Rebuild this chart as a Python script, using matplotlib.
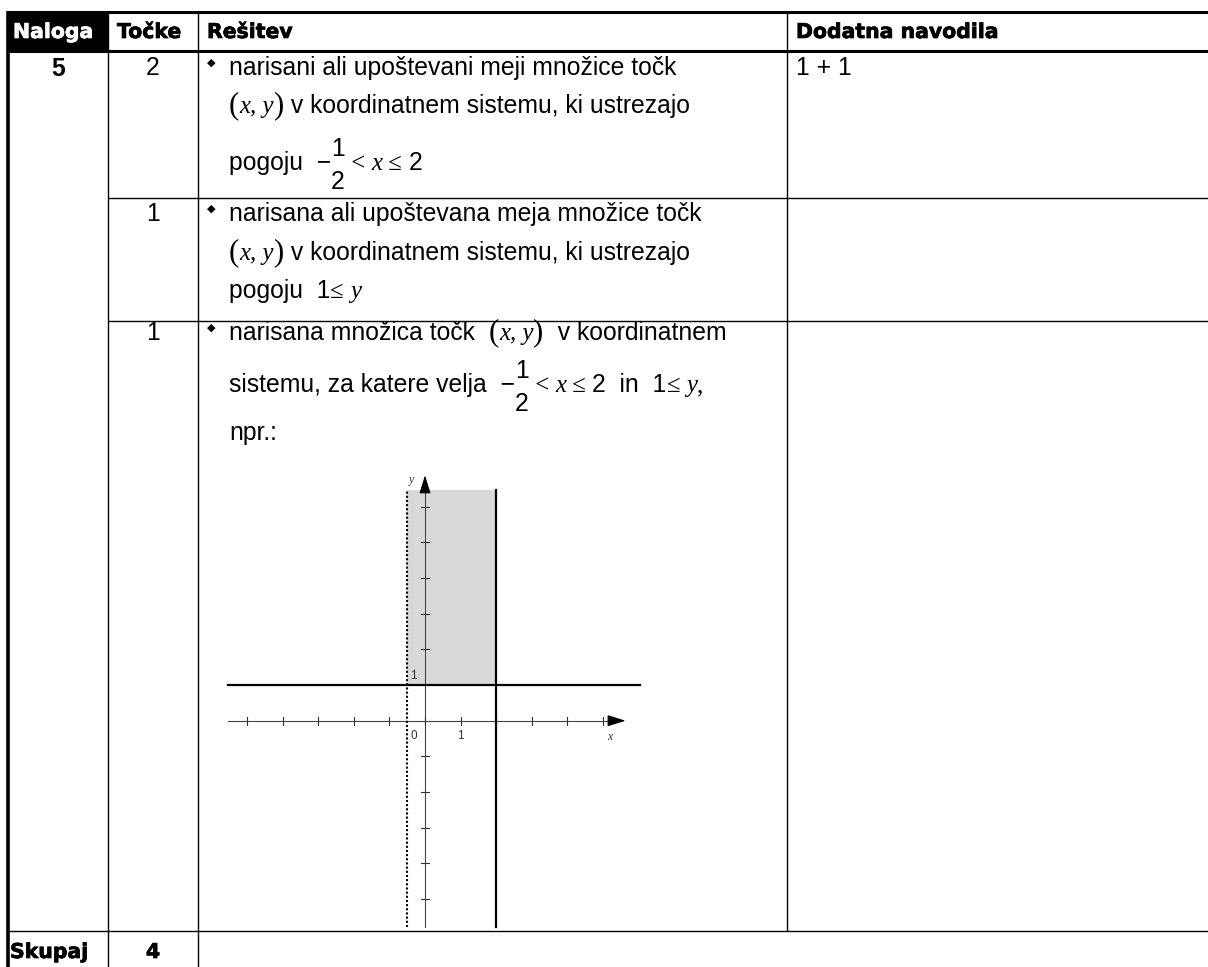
import matplotlib.pyplot as plt
import matplotlib.patheffects as pe
from matplotlib.font_manager import FontProperties

# ---- table content ----
headers = ["Naloga", "Točke", "Rešitev", "Dodatna navodila"]
naloga = "5"
tocke = ["2", "1", "1"]
navodila = ["1 + 1", "", ""]
skupaj_label = "Skupaj"
skupaj = "4"

# solution text, one list of lines per row; each line is a list of (style, text)
resitev = [
    [[("s", "narisani ali upoštevani meji množice točk")],
     [("p", "("), ("i", "x, y"), ("p", ")"), ("s", " v koordinatnem sistemu, ki ustrezajo")],
     [("s", "pogoju  −"), ("frac", ("1", "2")), ("r", " < "), ("i", "x"), ("r", " ≤ "), ("s", "2")]],
    [[("s", "narisana ali upoštevana meja množice točk")],
     [("p", "("), ("i", "x, y"), ("p", ")"), ("s", " v koordinatnem sistemu, ki ustrezajo")],
     [("s", "pogoju  1"), ("r", "≤ "), ("i", "y")]],
    [[("s", "narisana množica točk  "), ("p", "("), ("i", "x, y"), ("p", ")"), ("s", "  v koordinatnem")],
     [("s", "sistemu, za katere velja  −"), ("frac", ("1", "2")), ("r", " < "), ("i", "x"), ("r", " ≤ "),
      ("s", "2  in  1"), ("r", "≤ "), ("i", "y"), ("r", ",")],
     [("s", "npr.:")]],
]

# ---- small graph: -1/2 < x <= 2 and 1 <= y ----
x_left = -0.5
x_right = 2
y_low = 1
x_ticks = [-5, -4, -3, -2, -1, 0, 1, 2, 3, 4, 5]
y_ticks = [-5, -4, -3, -2, -1, 2, 3, 4, 5, 6]

W, H = 1208, 967
fig = plt.figure(figsize=(W / 100, H / 100), dpi=100)
ax = fig.add_axes([0, 0, 1, 1])
ax.set_xlim(0, W)
ax.set_ylim(H, 0)
ax.axis("off")
rend = fig.canvas.get_renderer()

FS = 17.8
styles = {
    "s": dict(family="Liberation Sans", size=FS),
    "i": dict(family="Liberation Serif", style="italic", size=FS),
    "r": dict(family="Liberation Serif", size=FS),
    "p": dict(family="Liberation Serif", size=FS * 1.25),
}
head = dict(family="DejaVu Sans", weight="bold", size=14.7)


def width(s, st):
    fp = FontProperties(**st)
    w1 = rend.get_text_width_height_descent(s + "l", fp, False)[0]
    w2 = rend.get_text_width_height_descent("l", fp, False)[0]
    return w1 - w2


def put_line(x, y, parts):
    for kind, s in parts:
        if kind == "frac":
            num, den = s
            ax.text(x, y - 14, num, va="baseline", **styles["s"])
            ax.text(x, y + 19, den, va="baseline", **styles["s"])
            x += max(width(num, styles["s"]), width(den, styles["s"]))
            continue
        ax.text(x, y, s, va="baseline", **styles[kind])
        x += width(s, styles[kind])


def heavy(x, y, s, color="black", **kw):
    t = ax.text(x, y, s, va="baseline", color=color, **head, **kw)
    t.set_path_effects([pe.withStroke(linewidth=0.5, foreground=color)])


def hline(y, x0, x1, lw=1.0):
    ax.plot([x0, x1], [y, y], color="black", lw=lw, solid_capstyle="butt")


def vline(x, y0, y1, lw=1.0):
    ax.plot([x, x], [y0, y1], color="black", lw=lw, solid_capstyle="butt")


# ---- grid ----
ax.fill_between([8, 108], 12, 51, color="black", lw=0)
hline(12, 7, W, 2.2)
hline(51, 7, W, 2.2)
vline(8, 11, H, 2.6)
vline(108, 12, H)
vline(198, 12, H)
vline(787, 12, 931)
hline(198, 108, W)
hline(321, 108, W)
hline(931, 8, W)

# ---- header ----
head_x = [13, 117, 207, 796]
for i, (hx, txt) in enumerate(zip(head_x, headers)):
    heavy(hx, 38, txt, color="white" if i == 0 else "black")

# ---- rows ----
ax.text(58, 76, naloga, ha="center", va="baseline", family="Liberation Sans",
        weight="bold", size=FS)
baselines = [[75, 113, 170], [221, 260, 298], [340, 392, 440]]
for r in range(3):
    b = baselines[r]
    ax.text(153, b[0], tocke[r], ha="center", va="baseline", **styles["s"])
    ax.text(207, b[0] - 9, "◆", va="baseline", family="DejaVu Sans", size=8)
    for y, parts in zip(b, resitev[r]):
        put_line(229, y, parts)
    if navodila[r]:
        ax.text(796, b[0], navodila[r], va="baseline", **styles["s"])

heavy(10, 958, skupaj_label)
heavy(153, 958, skupaj, ha="center")

# ---- small graph ----
ox, oy, ux, uy = 425, 720.7, 35.55, 35.65
px0, px1, py0, py1 = 220, 645, 465, 930
ax2 = fig.add_axes([px0 / W, (H - py1) / H, (px1 - px0) / W, (py1 - py0) / H])
ax2.set_xlim((px0 - ox) / ux, (px1 - ox) / ux)
ax2.set_ylim((oy - py1) / uy, (oy - py0) / uy)
ax2.axis("off")

x_min, x_max = -5.53, 6.05
y_min, y_top, y_max = -5.79, 6.47, 6.96
ax2.fill_between([x_left, x_right], y_low, y_top, color="#d9d9d9", lw=0)

ax2.plot([x_min, 5.5], [0, 0], color="#444444", lw=0.8)
ax2.plot([0, 0], [y_min, 6.7], color="#444444", lw=0.8)
ax2.annotate("", xy=(5.72, 0), xytext=(5.2, 0),
             arrowprops=dict(arrowstyle="-|>,head_length=0.8,head_width=0.25",
                             color="black", lw=0.8, mutation_scale=14))
ax2.annotate("", xy=(0, y_max), xytext=(0, 6.4),
             arrowprops=dict(arrowstyle="-|>,head_length=0.8,head_width=0.25",
                             color="black", lw=0.8, mutation_scale=14))
for t in x_ticks:
    ax2.plot([t, t], [-0.11, 0.11], color="#333333", lw=0.8)
for t in y_ticks:
    ax2.plot([-0.11, 0.11], [t, t], color="#333333", lw=0.8)

ax2.plot([x_min, x_max], [y_low, y_low], color="black", lw=1.6)
ax2.plot([x_right, x_right], [y_min, y_top], color="black", lw=1.6)
ax2.plot([x_left, x_left], [y_min, y_top], color="black", lw=1.5, ls=(0, (1, 1)))

tick_font = dict(family="Liberation Sans", size=8.5, color="#333333")
ax2.text(-0.42, -0.25, "0", ha="left", va="top", **tick_font)
ax2.text(1, -0.25, "1", ha="center", va="top", **tick_font)
ax2.text(-0.42, 1.08, "1", ha="left", va="bottom", **tick_font)
ax2.text(5.2, -0.3, "x", ha="center", va="top", family="Liberation Serif",
         style="italic", size=8.5, color="#333333")
ax2.text(-0.38, 6.75, "y", ha="center", va="center", family="Liberation Serif",
         style="italic", size=8.5, color="#333333")

fig.savefig("out.png", dpi=100)
